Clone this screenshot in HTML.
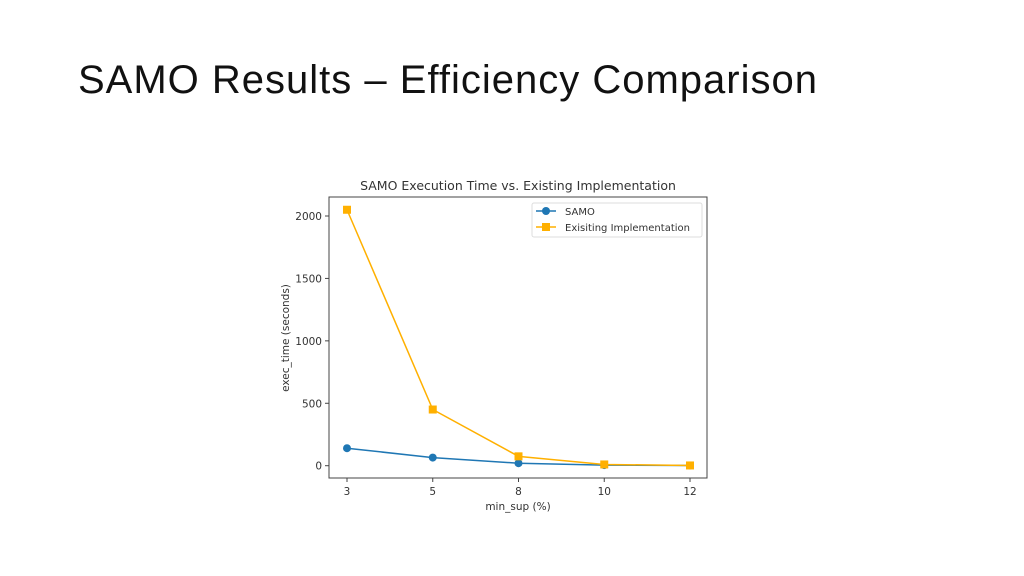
<!DOCTYPE html>
<html><head><meta charset="utf-8"><style>
body{margin:0;width:1024px;height:576px;background:#fff;overflow:hidden;font-family:"Liberation Sans",sans-serif}
#title{position:absolute;left:78px;top:58px;font-size:40px;color:#111;letter-spacing:1px}
svg{position:absolute;left:0;top:0}
svg text{font-family:"DejaVu Sans","Liberation Sans",sans-serif;fill:#333}
</style></head><body>
<div id="title">SAMO Results – Efficiency Comparison</div>
<svg id="chart" width="1024" height="576"></svg>
<script>
const categories=["3","5","8","10","12"];
const samoValues=[140,65,20,5,2];
const existingValues=[2050,450,75,10,2];
const yTicks=[0,500,1000,1500,2000];
const L=329,R=707,T=197,B=478;
const x0=347,dx=85.75,y0=465.7,ppu=249.7/2000;
const xs=i=>x0+i*dx, ys=v=>y0-v*ppu;
const svg=document.getElementById('chart');
const NS='http://www.w3.org/2000/svg';
function mk(t,a,p){const e=document.createElementNS(NS,t);for(const k in a)e.setAttribute(k,a[k]);(p||svg).appendChild(e);return e;}
let e=mk('rect',{x:L,y:T,width:R-L,height:B-T,fill:'none',stroke:'#444','stroke-width':1});


e=mk('text',{x:(L+R)/2,y:190,'text-anchor':'middle','font-size':12.5});e.textContent='SAMO Execution Time vs. Existing Implementation';


yTicks.forEach(v=>{mk('line',{x1:L-4,x2:L,y1:ys(v),y2:ys(v),stroke:'#444'});
 const t=mk('text',{x:L-7,y:ys(v)+4,'text-anchor':'end','font-size':10.5});t.textContent=v;
 
 });
categories.forEach((c,i)=>{mk('line',{x1:xs(i),x2:xs(i),y1:B,y2:B+4,stroke:'#444'});
 const t=mk('text',{x:xs(i),y:B+17,'text-anchor':'middle','font-size':10.5});t.textContent=c;
 
 });
e=mk('text',{x:(L+R)/2,y:510,'text-anchor':'middle','font-size':10.5});e.textContent='min_sup (%)';


e=mk('text',{x:289,y:338,'text-anchor':'middle','font-size':10.5,transform:'rotate(-90 289 338)'});e.textContent='exec_time (seconds)';


function series(vals,color,shape,name){
 const p=mk('polyline',{points:vals.map((v,i)=>xs(i)+','+ys(v)).join(' '),fill:'none',stroke:color,'stroke-width':1.5});
 
 
 vals.forEach((v,i)=>{let m;
  if(shape==='c')m=mk('circle',{cx:xs(i),cy:ys(v),r:4,fill:color});
  else m=mk('rect',{x:xs(i)-4,y:ys(v)-4,width:8,height:8,fill:color});
  
  });
}
series(samoValues,'#1f77b4','c','samo');
series(existingValues,'#ffb000','s','existing');
const lg=mk('g',{});


mk('rect',{x:532,y:203,width:170,height:34,fill:'#fff',stroke:'#ddd',rx:2},lg);
mk('line',{x1:536,x2:556,y1:211,y2:211,stroke:'#1f77b4','stroke-width':1.5},lg);
mk('circle',{cx:546,cy:211,r:4,fill:'#1f77b4'},lg);
e=mk('text',{x:565,y:215,'font-size':10},lg);e.textContent='SAMO';


mk('line',{x1:536,x2:556,y1:227,y2:227,stroke:'#ffb000','stroke-width':1.5},lg);
mk('rect',{x:542,y:223,width:8,height:8,fill:'#ffb000'},lg);
e=mk('text',{x:565,y:231,'font-size':10},lg);e.textContent='Exisiting Implementation';


</script>
</body></html>
